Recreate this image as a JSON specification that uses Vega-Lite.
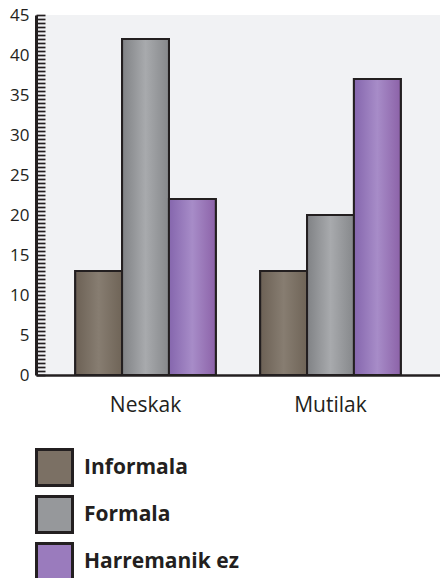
{
  "$schema": "https://vega.github.io/schema/vega-lite/v6.json",
  "autosize": {"type": "none"},
  "width": 404,
  "height": 360,
  "padding": {"left": 36, "top": 15, "right": 0, "bottom": 203},
  "background": "#ffffff",
  "config": {
    "view": {"fill": "#f1f2f4", "stroke": null},
    "font": "Open Sans"
  },
  "data": {
    "values": [
      {"group": "Neskak", "kind": "Informala", "value": 13},
      {"group": "Neskak", "kind": "Formala", "value": 42},
      {"group": "Neskak", "kind": "Harremanik ez", "value": 22},
      {"group": "Mutilak", "kind": "Informala", "value": 13},
      {"group": "Mutilak", "kind": "Formala", "value": 20},
      {"group": "Mutilak", "kind": "Harremanik ez", "value": 37}
    ]
  },
  "encoding": {
    "x": {
      "field": "group",
      "type": "nominal",
      "sort": ["Neskak", "Mutilak"],
      "scale": {"paddingInner": 0.24, "paddingOuter": 0.212},
      "axis": {
        "title": null,
        "labelAngle": 0,
        "ticks": false,
        "domainColor": "#231f20",
        "domainWidth": 2.5,
        "labelFont": "Open Sans",
        "labelFontSize": 21,
        "labelColor": "#231f20",
        "labelPadding": 19
      }
    },
    "xOffset": {
      "field": "kind",
      "type": "nominal",
      "sort": ["Informala", "Formala", "Harremanik ez"],
      "scale": {"paddingInner": 0, "paddingOuter": 0}
    },
    "y": {
      "field": "value",
      "type": "quantitative",
      "scale": {"domain": [0, 45], "nice": false},
      "axis": {
        "title": null,
        "grid": false,
        "tickCount": 90,
        "labelExpr": "datum.value % 5 === 0 ? format(datum.value, 'd') : ''",
        "tickSize": -9,
        "tickWidth": 1.7,
        "tickColor": "#231f20",
        "domainColor": "#231f20",
        "domainWidth": 3,
        "labelFont": "Open Sans",
        "labelFontSize": 17,
        "labelColor": "#231f20",
        "labelPadding": 16,
        "labelOverlap": false,
        "labelBound": false,
        "labelFlush": false
      }
    }
  },
  "layer": [
    {
      "mark": {"type": "bar", "stroke": "#231f20", "strokeWidth": 2},
      "encoding": {
        "color": {
          "field": "kind",
          "type": "nominal",
          "scale": {
            "domain": ["Informala", "Formala", "Harremanik ez"],
            "range": ["#7b7064", "#96989b", "#9a7bbd"]
          },
          "legend": {
            "title": null,
            "orient": "none",
            "legendX": -1,
            "legendY": 433,
            "padding": 0,
            "symbolType": "square",
            "symbolSize": 1296,
            "symbolStrokeColor": "#231f20",
            "symbolStrokeWidth": 3,
            "symbolOpacity": 1,
            "rowPadding": -2,
            "labelOffset": 10,
            "labelFont": "Open Sans",
            "labelFontSize": 21,
            "labelFontWeight": "bold",
            "labelColor": "#231f20"
          }
        }
      }
    },
    {
      "mark": {"type": "bar", "stroke": "#231f20", "strokeWidth": 2},
      "encoding": {
        "fill": {
          "condition": [
            {"test": "datum.kind === 'Informala'", "value": {"gradient": "linear", "x1": 0, "y1": 0, "x2": 1, "y2": 0, "stops": [{"offset": 0, "color": "#6c6155"}, {"offset": 0.5, "color": "#877d71"}, {"offset": 1, "color": "#6f6457"}]}},
            {"test": "datum.kind === 'Formala'", "value": {"gradient": "linear", "x1": 0, "y1": 0, "x2": 1, "y2": 0, "stops": [{"offset": 0, "color": "#808285"}, {"offset": 0.5, "color": "#a8aaad"}, {"offset": 1, "color": "#86888b"}]}}
          ],
          "value": {"gradient": "linear", "x1": 0, "y1": 0, "x2": 1, "y2": 0, "stops": [{"offset": 0, "color": "#8566ad"}, {"offset": 0.5, "color": "#a78cc8"}, {"offset": 1, "color": "#8c62a8"}]}
        }
      }
    }
  ]
}
